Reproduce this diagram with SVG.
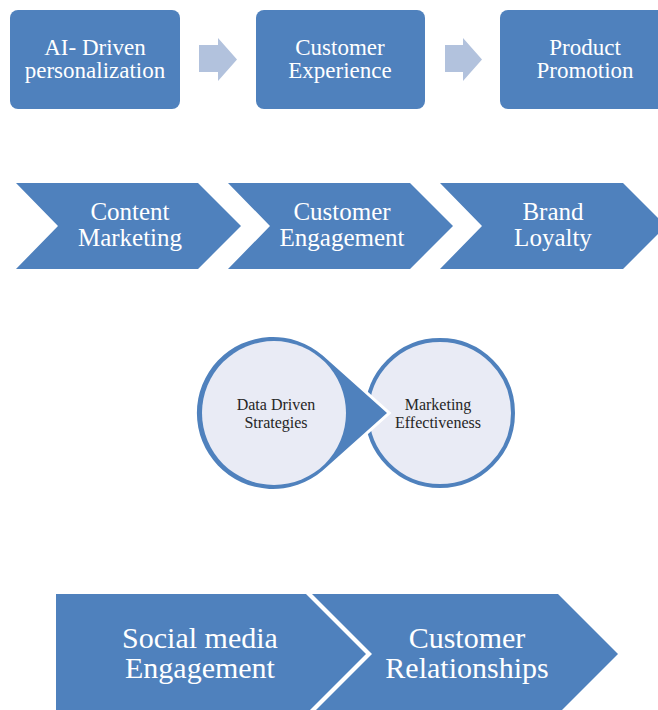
<svg xmlns="http://www.w3.org/2000/svg" width="658" height="710" viewBox="0 0 658 710">
  <style>
    .box { fill: #4f81bd; }
    .lbl { font-family: "Liberation Serif", "Times New Roman", serif; fill: #ffffff; text-anchor: middle; }
    .top { font-size: 23px; }
    .chev { font-size: 25px; }
    .big { font-size: 30px; }
    .dark { font-family: "Liberation Serif", "Times New Roman", serif; fill: #262626; text-anchor: middle; font-size: 16px; }
    .arrow { fill: #b2c2dd; }
    .disc { fill: #e9ebf5; }
  </style>
  <rect width="658" height="710" fill="#ffffff"/>

  <!-- top row: process boxes -->
  <g id="ai-personalization">
    <rect class="box" x="10" y="10" width="170" height="99" rx="8"/>
    <text class="lbl top" x="95" y="55">AI- Driven</text>
    <text class="lbl top" x="95" y="78">personalization</text>
  </g>
  <g id="customer-experience">
    <rect class="box" x="256" y="10" width="169" height="99" rx="8"/>
    <text class="lbl top" x="340" y="55">Customer</text>
    <text class="lbl top" x="340" y="78">Experience</text>
  </g>
  <g id="product-promotion">
    <rect class="box" x="500" y="10" width="168" height="99" rx="8"/>
    <text class="lbl top" x="585" y="55">Product</text>
    <text class="lbl top" x="585" y="78">Promotion</text>
  </g>

  <!-- connectors between top boxes -->
  <g id="connectors">
    <path class="arrow" d="M199,45 H218 V38 L237,59.5 L218,81 V72 H199 Z"/>
    <path class="arrow" d="M445,45 H463 V38 L482,59.5 L463,81 V72 H445 Z"/>
  </g>

  <!-- second row: chevrons -->
  <g id="content-marketing">
    <path class="box" d="M16,183 H198 L241,226 L198,269 H16 L58,226 Z"/>
    <text class="lbl chev" x="130" y="219.5">Content</text>
    <text class="lbl chev" x="130" y="245.5">Marketing</text>
  </g>
  <g id="customer-engagement">
    <path class="box" d="M228,183 H410 L453,226 L410,269 H228 L270,226 Z"/>
    <text class="lbl chev" x="342" y="219.5">Customer</text>
    <text class="lbl chev" x="342" y="245.5">Engagement</text>
  </g>
  <g id="brand-loyalty">
    <path class="box" d="M440,183 H623 L666,226 L623,269 H440 L482,226 Z"/>
    <text class="lbl chev" x="553" y="219.5">Brand</text>
    <text class="lbl chev" x="553" y="245.5">Loyalty</text>
  </g>

  <!-- circles -->
  <g id="marketing-effectiveness">
    <circle class="disc" cx="440" cy="413" r="73" stroke="#4f81bd" stroke-width="4"/>
    <text class="dark" x="438" y="409.5">Marketing</text>
    <text class="dark" x="438" y="427.5">Effectiveness</text>
  </g>
  <g id="data-driven-strategies">
    <path d="M322.7,355.6 A76,76 0 1,0 322.7,470.4 L387,413 Z" fill="#4f81bd" stroke="#ffffff" stroke-width="6" stroke-linejoin="miter"/>
    <path d="M322.7,355.6 A76,76 0 1,0 322.7,470.4 L387,413 Z" fill="#4f81bd"/>
    <circle class="disc" cx="274" cy="413" r="72"/>
    <text class="dark" x="276" y="409.5">Data Driven</text>
    <text class="dark" x="276" y="427.5">Strategies</text>
  </g>

  <!-- bottom row -->
  <g id="social-media-engagement">
    <path class="box" d="M56,594 H306 L366,654 L306,714 H56 Z"/>
    <text class="lbl big" x="200" y="648">Social media</text>
    <text class="lbl big" x="200" y="678">Engagement</text>
  </g>
  <g id="customer-relationships">
    <path class="box" d="M312,594 H558 L618,654 L558,714 H312 L372,654 Z"/>
    <text class="lbl big" x="467" y="648">Customer</text>
    <text class="lbl big" x="467" y="678">Relationships</text>
  </g>
</svg>
